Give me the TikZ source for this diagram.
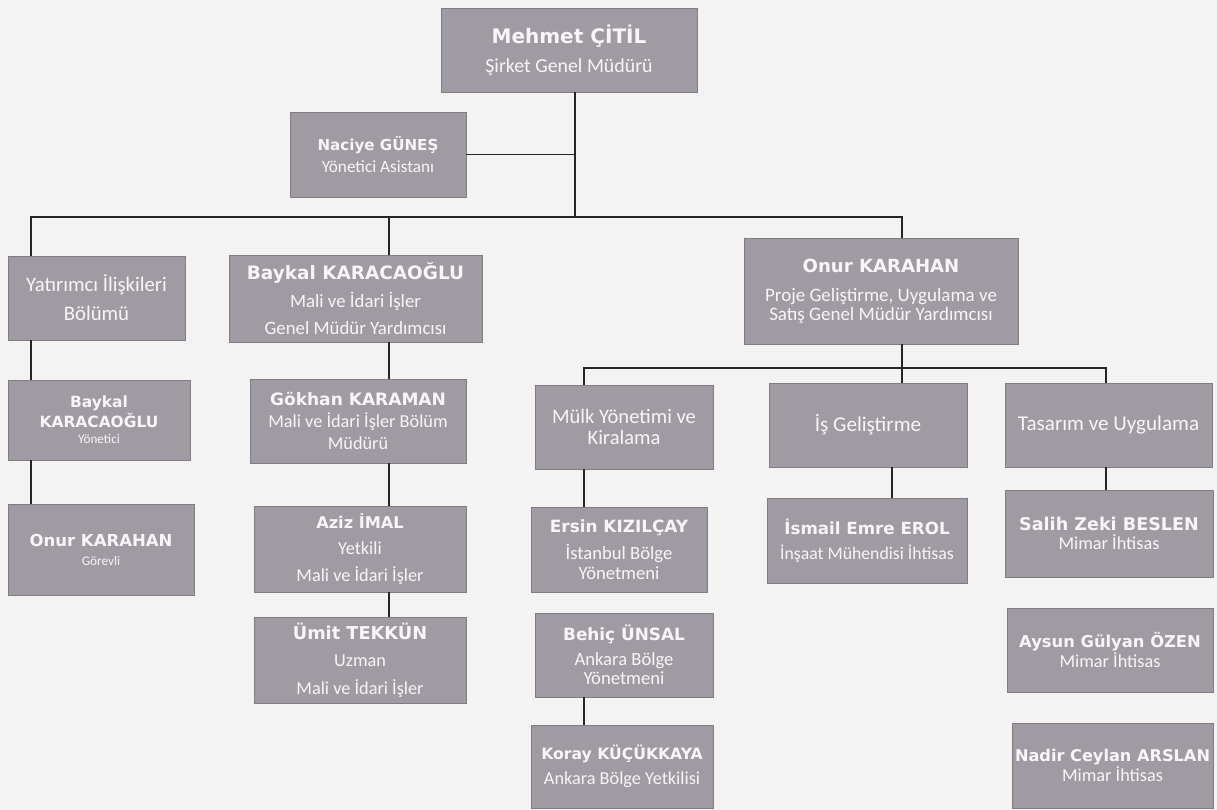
\documentclass[tikz,border=0pt]{standalone}
\usepackage{fontspec}
\setmainfont{Carlito}
\newfontfamily\namefont{DejaVu Sans}
\usepackage{tikz}
\definecolor{boxgray}{RGB}{160,155,163}
\definecolor{boxtext}{RGB}{247,245,248}
\definecolor{paper}{RGB}{243,243,243}
\newcommand{\pname}[2][10]{{\namefont\bfseries\fontsize{#1}{12}\selectfont #2}}
\newcommand{\fs}[2]{\fontsize{#1}{#2}\selectfont}

\begin{document}
\begin{tikzpicture}
  [x=0.02cm, y=-0.02cm,
  unit/.style={draw=boxgray!80!black, line width=0.5pt, fill=boxgray,
    text=boxtext, align=center, inner sep=0pt},
  sz/.style 2 args={minimum width=#1*0.02cm, minimum height=#2*0.02cm},
  dept/.style={font=\fs{12}{11.5}},
  link/.style={draw=black!85, line width=1pt}
  ]
  \fill[paper] (0,0) rectangle (1217,810);
  \useasboundingbox (0,0) rectangle (1217,810);

  \node[unit, sz={256}{84}, font=\fs{11.3}{14}] (ceo) at (569,50)
    {\pname[11.4]{Mehmet ÇİTİL}\\[2.5pt] Şirket Genel Müdürü};
  \node[unit, sz={176}{85}, font=\fs{9.8}{12.5}] (asst) at (378,154.5)
    {\pname[8.6]{Naciye GÜNEŞ}\\ Yönetici Asistanı};

  \node[unit, sz={177}{84}, dept, font=\fs{11.8}{16.5}] (yat) at (96.5,298)
    {Yatırımcı İlişkileri\\ Bölümü};
  \node[unit, sz={182}{80}, font=\fs{7.5}{9.5}] (bky) at (99,420)
    {\pname[8.8]{Baykal}\\ \pname[8.8]{KARACAOĞLU}\\ Yönetici};
  \node[unit, sz={186}{91}, font=\fs{7.5}{10.8}] (okg) at (101,549.5)
    {\pname[9.4]{Onur KARAHAN}\\ Görevli};

  \node[unit, sz={253}{87}, font=\fs{10.7}{15.3}] (bk) at (355.5,298.5)
    {\pname[10.5]{Baykal KARACAOĞLU}\\[1pt] Mali ve İdari İşler\\ Genel Müdür Yardımcısı};
  \node[unit, sz={216}{84}, font=\fs{10.4}{12.5}] (gk) at (358,421)
    {\pname[9.7]{Gökhan KARAMAN}\\ Mali ve İdari İşler Bölüm\\ Müdürü};
  \node[unit, sz={212}{86}, font=\fs{10.4}{15.3}] (az) at (360,549)
    {\pname[9.2]{Aziz İMAL}\\ Yetkili\\ Mali ve İdari İşler};
  \node[unit, sz={212}{86}, font=\fs{10.4}{15.6}] (ut) at (360,660)
    {\pname[10.1]{Ümit TEKKÜN}\\ Uzman\\ Mali ve İdari İşler};

  \node[unit, sz={274}{106}, font=\fs{10.8}{10.8}] (okp) at (881,291)
    {\pname[10.3]{Onur KARAHAN}\\[5.6pt] Proje Geliştirme, Uygulama ve\\ Satış Genel Müdür Yardımcısı};

  \node[unit, sz={178}{84}, dept, font=\fs{11.7}{11.5}] (mulk) at (624,427)
    {Mülk Yönetimi ve\\ Kiralama};
  \node[unit, sz={198}{84}, dept] (isg) at (868,425) {İş Geliştirme};
  \node[unit, sz={207}{84}, dept] (tas) at (1108.5,425) {Tasarım ve Uygulama};

  \node[unit, sz={176}{85}, font=\fs{10.6}{11.3}] (ek) at (619,549.5)
    {\pname[9.6]{Ersin KIZILÇAY}\\[4pt] İstanbul Bölge\\ Yönetmeni};
  \node[unit, sz={178}{84}, font=\fs{10.6}{11}] (bu) at (624,655)
    {\pname[9.6]{Behiç ÜNSAL}\\[3pt] Ankara Bölge\\ Yönetmeni};
  \node[unit, sz={182}{83}, font=\fs{10.4}{14}] (kk) at (622,766.5)
    {\pname[8.9]{Koray KÜÇÜKKAYA}\\ Ankara Bölge Yetkilisi};

  \node[unit, sz={200}{85}, font=\fs{10.1}{14.5}] (iee) at (867,540.5)
    {\pname[9.5]{İsmail Emre EROL}\\ İnşaat Mühendisi İhtisas};

  \node[unit, sz={208}{87}, font=\fs{10.4}{11}] (sz) at (1109,533.5)
    {\pname[10]{Salih Zeki BESLEN}\\ Mimar İhtisas};
  \node[unit, sz={206}{84}, font=\fs{10.4}{11}] (ago) at (1110,650)
    {\pname[9.3]{Aysun Gülyan ÖZEN}\\ Mimar İhtisas};
  \node[unit, sz={201}{85}, font=\fs{10.4}{11.5}] (nca) at (1112.5,765.5)
    {\pname[9.2]{Nadir Ceylan ARSLAN}\\ Mimar İhtisas};

  \coordinate (cA) at (31,0);
  \coordinate (cB) at (389,0);
  \coordinate (cC) at (575,0);
  \coordinate (cD) at (584,0);
  \coordinate (cE) at (902,0);
  \coordinate (cF) at (892,0);
  \coordinate (cG) at (1106,0);
  \coordinate (bus) at (575,217);
  \coordinate (bus2) at (902,368);

  \draw[link] (ceo.south -| cC) -- (bus);
  \draw[link] (asst.east) -- (asst.east -| cC);
  \draw[link] (yat.north -| cA) |- (bus) -| (okp.north -| cE);
  \draw[link] (bus -| cB) -- (bk.north -| cB);
  \draw[link] (yat.south -| cA) -- (bky.north -| cA);
  \draw[link] (bky.south -| cA) -- (okg.north -| cA);
  \draw[link] (bk.south -| cB) -- (gk.north -| cB);
  \draw[link] (gk.south -| cB) -- (az.north -| cB);
  \draw[link] (az.south -| cB) -- (ut.north -| cB);
  \draw[link] (okp.south -| cE) -- (isg.north -| cE);
  \draw[link] (mulk.north -| cD) |- (bus2) -| (tas.north -| cG);
  \draw[link] (mulk.south -| cD) -- (ek.north -| cD);
  \draw[link] (bu.south -| cD) -- (kk.north -| cD);
  \draw[link] (isg.south -| cF) -- (iee.north -| cF);
  \draw[link] (tas.south -| cG) -- (sz.north -| cG);
\end{tikzpicture}
\end{document}
